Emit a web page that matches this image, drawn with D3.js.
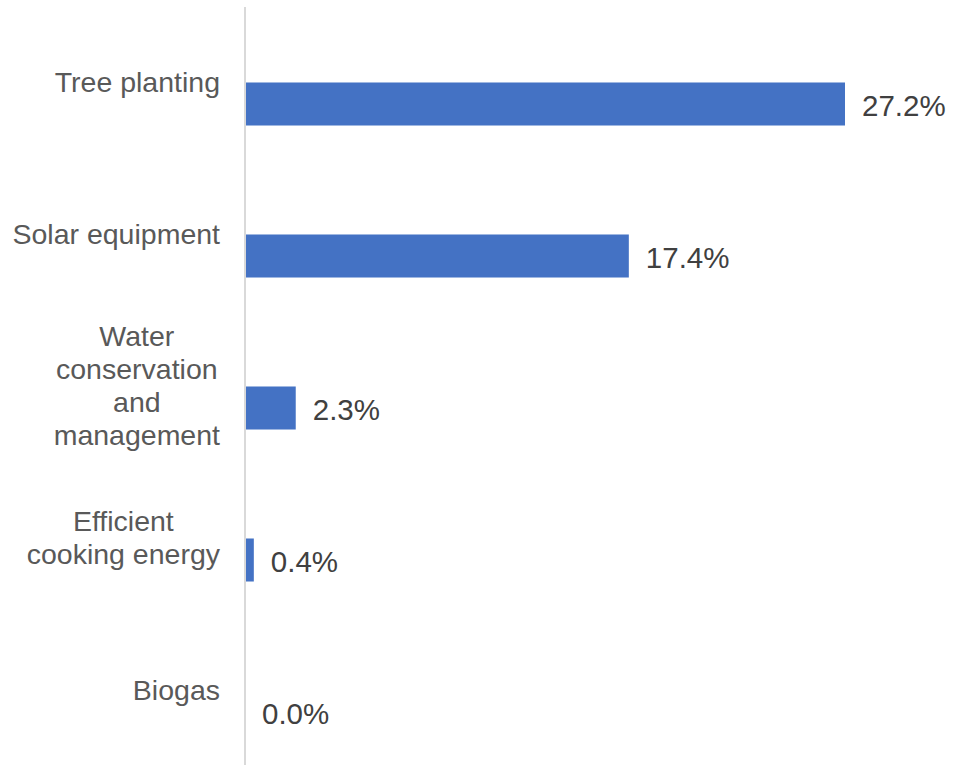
<!DOCTYPE html>
<html>
<head>
<meta charset="utf-8">
<script src="https://cdn.jsdelivr.net/npm/d3@7/dist/d3.min.js"></script>
<style>
  html, body { margin: 0; padding: 0; background: #ffffff; }
  svg { display: block; }
</style>
</head>
<body>
<svg id="chart" width="953" height="765"></svg>
<script>
const categories = ["Tree planting", "Solar equipment", "Water conservation and management", "Efficient cooking energy", "Biogas"];
const categoryLines = [["Tree planting"], ["Solar equipment"], ["Water", "conservation", "and", "management"], ["Efficient", "cooking energy"], ["Biogas"]];
const values = [27.2, 17.4, 2.3, 0.4, 0.0];

const svg = d3.select("#chart");
const W = 953, H = 765;
const x0 = 245;

const x = d3.scaleLinear().domain([0, 27.2]).range([x0, 845]);
const y = d3.scaleBand().domain(categories).range([28, 788]).paddingInner(0.717).paddingOuter(0.3585);

const data = categories.map((c, i) => ({ cat: c, lines: categoryLines[i], value: values[i] }));

// bars
svg.selectAll("rect.bar").data(data).enter().append("rect")
  .attr("class", "bar")
  .attr("x", x(0))
  .attr("y", d => y(d.cat))
  .attr("width", d => x(d.value) - x(0))
  .attr("height", y.bandwidth())
  .attr("fill", "#4472C4");

// axis line
svg.append("line")
  .attr("x1", x0).attr("x2", x0)
  .attr("y1", 7).attr("y2", H)
  .attr("stroke", "#d9d9d9").attr("stroke-width", 2);

const fontFam = "'Century Gothic', 'Liberation Sans', Arial, sans-serif";

// category labels
const lineH = 33;
data.forEach(d => {
  const cy = y(d.cat) + y.bandwidth() / 2 - 22;
  const n = d.lines.length;
  const g = svg.append("g");
  const texts = d.lines.map((ln, j) => g.append("text")
    .attr("y", cy + (j - (n - 1) / 2) * lineH)
    .attr("dy", "0.35em")
    .attr("font-family", fontFam)
    .attr("font-size", 28.5)
    .attr("fill", "#595959")
    .attr("text-anchor", "middle")
    .text(ln));
  const maxW = d3.max(texts, t => t.node().getComputedTextLength());
  const cx = 220 - maxW / 2;
  texts.forEach(t => t.attr("x", cx));
});

// value labels
svg.selectAll("text.val").data(data).enter().append("text")
  .attr("class", "val")
  .attr("x", d => x(d.value) + 17)
  .attr("y", d => y(d.cat) + y.bandwidth() / 2 + 2)
  .attr("dy", "0.35em")
  .attr("font-family", fontFam)
  .attr("font-size", 29.5)
  .attr("fill", "#404040")
  .text(d => d.value.toFixed(1) + "%");
</script>
</body>
</html>
